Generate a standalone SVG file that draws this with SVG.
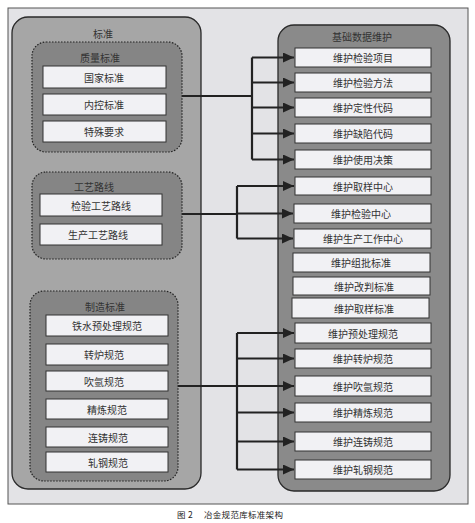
<svg xmlns="http://www.w3.org/2000/svg" width="475" height="523" viewBox="0 0 475 523">
<defs>
<style>
text{font-family:"Noto Sans CJK SC","Noto Sans CJK JP",sans-serif;fill:#333;font-size:10px;text-anchor:middle;dominant-baseline:central}
.big{stroke:#2a2a2a;stroke-width:1.3}
.grp{fill:#858585;stroke:#222;stroke-width:1.2;stroke-dasharray:1.5 1.5}
.item{fill:#f1f1f4;stroke:#333;stroke-width:1}
.conn line,.conn path{stroke:#222;stroke-width:2.2;fill:none}
text.cap{font-size:8.5px;letter-spacing:0.3px;fill:#222;text-anchor:start}
</style>
<marker id="ah" markerUnits="userSpaceOnUse" markerWidth="12" markerHeight="10" refX="11" refY="5" orient="auto">
<path d="M0,0 L11,5 L0,10 Z" fill="#222"/>
</marker>
</defs>
<rect x="8" y="8" width="460" height="496" fill="#e3e3e6" stroke="#555" stroke-width="1"/>

<g id="standard">
<rect class="big" x="12" y="17" width="189" height="472" rx="16" fill="#a6a6a6"/>
<text x="103" y="33">标准</text>
</g>
<g id="quality">
<rect class="grp" x="32" y="42" width="150" height="110" rx="14"/>
<text x="100" y="57">质量标准</text>
<g id="q1"><rect class="item" x="43" y="66" width="123" height="22"/><text x="104" y="77">国家标准</text></g>
<g id="q2"><rect class="item" x="43" y="94" width="123" height="21"/><text x="104" y="104.5">内控标准</text></g>
<g id="q3"><rect class="item" x="43" y="121" width="123" height="21"/><text x="104" y="131.5">特殊要求</text></g>
</g>
<g id="route">
<rect class="grp" x="32" y="172" width="150" height="87" rx="14"/>
<text x="94" y="186">工艺路线</text>
<g id="r1"><rect class="item" x="40" y="194" width="122" height="22"/><text x="101" y="205">检验工艺路线</text></g>
<g id="r2"><rect class="item" x="40" y="224" width="122" height="21"/><text x="98" y="234.5">生产工艺路线</text></g>
</g>
<g id="manufacture">
<rect class="grp" x="30" y="291" width="148" height="190" rx="14"/>
<text x="105" y="306">制造标准</text>
<g id="m1"><rect class="item" x="46" y="315" width="122" height="21"/><text x="107" y="325.5">铁水预处理规范</text></g>
<g id="m2"><rect class="item" x="46" y="344" width="122" height="21"/><text x="104" y="354.5">转炉规范</text></g>
<g id="m3"><rect class="item" x="46" y="371" width="122" height="20"/><text x="104" y="381">吹氩规范</text></g>
<g id="m4"><rect class="item" x="46" y="399" width="122" height="20"/><text x="107" y="409">精炼规范</text></g>
<g id="m5"><rect class="item" x="46" y="427" width="122" height="20"/><text x="108" y="437">连铸规范</text></g>
<g id="m6"><rect class="item" x="46" y="452" width="122" height="20"/><text x="108" y="462">轧钢规范</text></g>
</g>

<g id="maintain">
<rect class="big" x="278" y="25" width="172" height="466" rx="16" fill="#8a8a8a"/>
<text x="362" y="36">基础数据维护</text>
<g id="d1"><rect class="item" x="295" y="48" width="136" height="19"/><text x="363" y="57.5">维护检验项目</text></g>
<g id="d2"><rect class="item" x="295" y="73" width="136" height="19"/><text x="363" y="82.5">维护检验方法</text></g>
<g id="d3"><rect class="item" x="295" y="98" width="136" height="19"/><text x="363" y="107.5">维护定性代码</text></g>
<g id="d4"><rect class="item" x="295" y="124" width="136" height="19"/><text x="363" y="133.5">维护缺陷代码</text></g>
<g id="d5"><rect class="item" x="295" y="150" width="136" height="19"/><text x="363" y="159.5">维护使用决策</text></g>
<g id="d6"><rect class="item" x="295" y="177" width="136" height="18"/><text x="363" y="186">维护取样中心</text></g>
<g id="d7"><rect class="item" x="294" y="204" width="137" height="19"/><text x="361" y="213.5">维护检验中心</text></g>
<g id="d8"><rect class="item" x="294" y="229" width="137" height="19"/><text x="363" y="238.5">维护生产工作中心</text></g>
<g id="d9"><rect class="item" x="293" y="253" width="137" height="19"/><text x="361" y="262.5">维护组批标准</text></g>
<g id="d10"><rect class="item" x="293" y="277" width="137" height="18"/><text x="364" y="286">维护改判标准</text></g>
<g id="d11"><rect class="item" x="292" y="298" width="137" height="20"/><text x="364" y="308">维护取样标准</text></g>
<g id="d12"><rect class="item" x="295" y="323" width="136" height="20"/><text x="363" y="333">维护预处理规范</text></g>
<g id="d13"><rect class="item" x="295" y="349" width="136" height="19"/><text x="363" y="358.5">维护转炉规范</text></g>
<g id="d14"><rect class="item" x="295" y="376" width="136" height="20"/><text x="363" y="386">维护吹氩规范</text></g>
<g id="d15"><rect class="item" x="295" y="403" width="136" height="19"/><text x="363" y="412.5">维护精炼规范</text></g>
<g id="d16"><rect class="item" x="295" y="432" width="136" height="19"/><text x="363" y="441.5">维护连铸规范</text></g>
<g id="d17"><rect class="item" x="295" y="460" width="136" height="19"/><text x="363" y="469.5">维护轧钢规范</text></g>
</g>

<g id="connectors" class="conn">
<path d="M182,96 H252 M252,57.5 V159.5"/>
<line x1="252" y1="57.5" x2="294" y2="57.5" marker-end="url(#ah)"/>
<line x1="252" y1="82.5" x2="294" y2="82.5" marker-end="url(#ah)"/>
<line x1="252" y1="107.5" x2="294" y2="107.5" marker-end="url(#ah)"/>
<line x1="252" y1="133.5" x2="294" y2="133.5" marker-end="url(#ah)"/>
<line x1="252" y1="159.5" x2="294" y2="159.5" marker-end="url(#ah)"/>
<path d="M182,214 H237 M237,186 V238.5"/>
<line x1="237" y1="186" x2="294" y2="186" marker-end="url(#ah)"/>
<line x1="237" y1="213.5" x2="293" y2="213.5" marker-end="url(#ah)"/>
<line x1="237" y1="238.5" x2="293" y2="238.5" marker-end="url(#ah)"/>
<path d="M178,386 H237 M237,333 V469.5"/>
<line x1="237" y1="333" x2="294" y2="333" marker-end="url(#ah)"/>
<line x1="237" y1="358.5" x2="294" y2="358.5" marker-end="url(#ah)"/>
<line x1="237" y1="386" x2="294" y2="386" marker-end="url(#ah)"/>
<line x1="237" y1="412.5" x2="294" y2="412.5" marker-end="url(#ah)"/>
<line x1="237" y1="441.5" x2="294" y2="441.5" marker-end="url(#ah)"/>
<line x1="237" y1="469.5" x2="294" y2="469.5" marker-end="url(#ah)"/>
</g>

<text class="cap" x="177" y="514">图 2</text>
<text class="cap" x="204" y="514">冶金规范库标准架构</text>
</svg>
